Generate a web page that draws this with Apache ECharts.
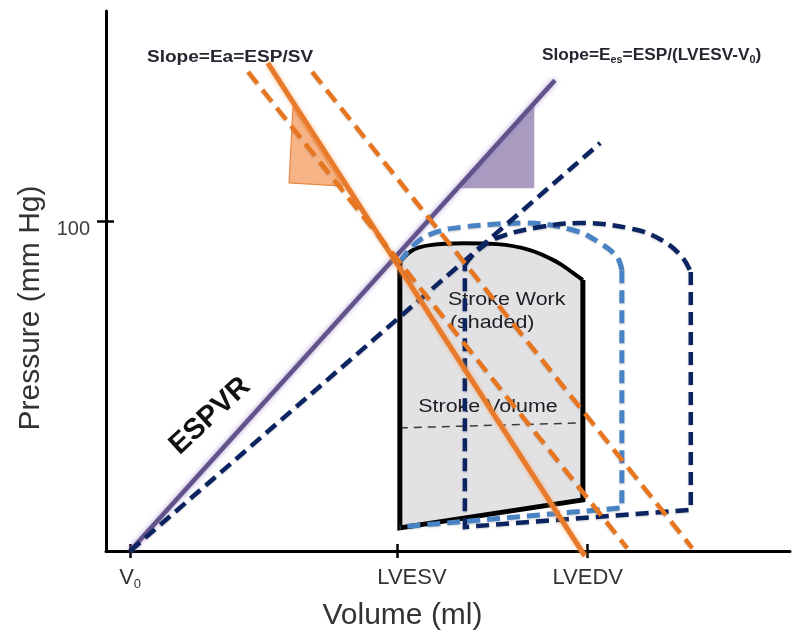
<!DOCTYPE html>
<html>
<head>
<meta charset="utf-8">
<title>Pressure-volume loop: ESPVR and arterial elastance</title>
<script src="https://cdn.jsdelivr.net/npm/echarts@6/dist/echarts.min.js"></script>
<style>
  html, body { margin: 0; padding: 0; background: #fff; }
  #chart { width: 802px; height: 637px; }
</style>
</head>
<body>
<div id="chart"></div>
<script>
// ---- axis ticks ----
const volumeTicks = [5, 60.5, 100];            // V0, LVESV, LVEDV (ml)
const volumeTickLabels = ['V0', 'LVESV', 'LVEDV'];
const pressureTicks = [100];                   // mm Hg

// ---- end-systolic pressure-volume relation ----
const espvr = [[5, 0], [93.2, 143.0]];
const espvrShifted = [[5, 0], [102.6, 123.9]];
const eesWedge = [[73.0, 110.2], [88.9, 110.2], [88.9, 136.0]];

// ---- arterial elastance (Ea) lines ----
const eaLine = [[33.6, 148.2], [99.4, -1.5]];
const eaDashedA = [[29.5, 145.5], [108.2, 0.9]];
const eaDashedB = [[42.8, 145.5], [121.7, 0.9]];
const eaWedge = [[38.8, 134.5], [38.0, 111.8], [49.2, 110.8]];

// ---- baseline loop (solid, shaded) ----
const loopTop = [[61, 87.8], [63.7, 91.4], [67.3, 92.9], [74.1, 93.5], [81.2, 93.2],
                 [88.0, 91.4], [93.6, 87.8], [97.0, 84.4], [99.0, 82.3]];
const loopSides = [[99.0, 82.3], [99.0, 15.5], [61, 7.0], [61, 87.8]];
const strokeVolumeLine = [[61, 37.4], [99.0, 38.9]];

// ---- larger loop (light blue dashed) ----
const loopBTop = [[61, 87.8], [64.6, 93.8], [68.7, 96.9], [74.1, 98.4], [81.2, 99.3],
                  [86.6, 99.6], [96.9, 97.5], [102.6, 93.5], [106.1, 89.3], [107.1, 85.3]];
const loopBSides = [[107.1, 85.3], [107.1, 13.1], [61, 7.3]];

// ---- shifted loop (navy dashed) ----
const loopCTop = [[74.5, 86.9], [77.2, 91.4], [81.8, 95.4], [90.1, 98.4], [98.4, 99.6],
                  [109.4, 97.8], [115.4, 94.4], [119.6, 89.3], [121.4, 84.7]];
const loopCSides = [[121.4, 84.7], [121.4, 12.5], [74.5, 7.3], [74.5, 86.9]];

// ---- annotations (anchored in data units) ----
const notes = [
  { text: '{a|Slope=Ea=ESP/SV}', x: 8.5, y: 150.0, align: 'left', sx: 1.19 },
  { text: '{a|Slope=E}{s|es}{a|=ESP/(LVESV-V}{s|0}{a|)}', x: 90.5, y: 150.6, align: 'left', sx: 1.08 },
  { text: '{n|Stroke Work}', x: 71.0, y: 76.2, align: 'left', sx: 1.19 },
  { text: '{n|(shaded)}', x: 71.4, y: 69.2, align: 'left', sx: 1.19 },
  { text: '{n|Stroke Volume}', x: 79.3, y: 43.7, align: 'center', sx: 1.19 },
  { text: '{e|ESPVR}', x: 21.6, y: 41.0, align: 'center', sx: 1, rotate: 43 }
];

const FONT = '"Liberation Sans", Arial, Helvetica, sans-serif';
const INK = '#262630';
const ORANGE = '#e8761e';
const NAVY = '#0c2461';
const LIGHT_BLUE = '#4a83c4';
const PURPLE = '#62528a';

const RICH = {
  a: { font: 'bold 16px ' + FONT, fill: INK, lineHeight: 20 },
  s: { font: 'bold 10px ' + FONT, fill: INK, lineHeight: 11, verticalAlign: 'bottom' },
  n: { font: '18px ' + FONT, fill: '#1e1e22', lineHeight: 22 },
  e: { font: 'bold 29px ' + FONT, fill: '#111', lineHeight: 32 }
};

function line(pts, color, width, type, z, extra) {
  return Object.assign({
    type: 'line', data: pts, symbol: 'none', silent: true, clip: false,
    z: z, animation: false,
    lineStyle: { color: color, width: width, type: type, cap: 'butt', join: 'miter' }
  }, extra || {});
}

function dashed(pts, color, width, dash, z, smooth) {
  return line(pts, color, width, dash, z, {
    smooth: smooth || false,
    lineStyle: {
      color: color, width: width, type: dash, cap: 'butt', join: 'miter',
      shadowColor: 'rgba(0,0,0,0.18)', shadowBlur: 2, shadowOffsetY: 1
    }
  });
}

function polygon(pts, fill, stroke, z) {
  return {
    type: 'custom', data: [pts[0]], encode: { x: 0, y: 1 }, z: z,
    silent: true, clip: false, animation: false,
    renderItem: function (params, api) {
      return {
        type: 'polygon',
        shape: { points: pts.map(function (p) { return api.coord(p); }) },
        style: { fill: fill, stroke: stroke || null, lineWidth: stroke ? 1.2 : 0 }
      };
    }
  };
}

const series = [
  // shaded stroke-work area
  polygon(loopTop.concat(loopSides.slice(1, 3)), '#e2e2e5', null, 1),
  line(strokeVolumeLine, '#3a3a3a', 1.5, [8, 6], 2),
  // slope wedges
  polygon(eesWedge, '#a99cc0', null, 2),
  polygon(eaWedge, '#f6b386', '#e58a46', 2),
  // annotation texts
  {
    type: 'custom', data: notes.map(function (n) { return [n.x, n.y]; }),
    encode: { x: 0, y: 1 }, z: 3, silent: true, clip: false, animation: false,
    renderItem: function (params, api) {
      const n = notes[params.dataIndex];
      const p = api.coord([n.x, n.y]);
      return {
        type: 'text', x: p[0], y: p[1],
        rotation: (n.rotate || 0) * Math.PI / 180,
        scaleX: n.sx,
        style: { text: n.text, rich: RICH, align: n.align, verticalAlign: 'middle' }
      };
    }
  },
  // baseline loop outline
  line(loopSides, '#000', 5, 'solid', 4),
  line(loopTop, '#000', 4, 'solid', 4, { smooth: 0.4 }),
  // ESPVR
  line(espvr, PURPLE, 4.5, 'solid', 5, {
    lineStyle: { color: PURPLE, width: 4.5, shadowColor: 'rgba(150,130,200,0.8)', shadowBlur: 5 }
  }),
  // light-blue loop
  dashed(loopBTop, LIGHT_BLUE, 5, [13, 7], 6, 0.4),
  dashed(loopBSides, LIGHT_BLUE, 5, [13, 7], 6),
  // navy loop and shifted ESPVR
  dashed(loopCTop, NAVY, 4.5, [13, 7], 7, 0.4),
  dashed(loopCSides, NAVY, 4.5, [13, 7], 7),
  dashed(espvrShifted, NAVY, 4.5, [13, 7], 7),
  // Ea lines
  line(eaLine, '#e87a2c', 5, 'solid', 8, {
    lineStyle: { color: '#e87a2c', width: 5, shadowColor: 'rgba(245,160,90,0.7)', shadowBlur: 4 }
  }),
  dashed(eaDashedA, ORANGE, 4.5, [15, 8], 9),
  dashed(eaDashedB, ORANGE, 4.5, [15, 8], 9)
];

const AXIS_INK = '#333';

const option = {
  animation: false,
  backgroundColor: '#fff',
  grid: { left: 106, right: 12, top: 11, bottom: 86, containLabel: false, outerBoundsMode: 'none' },
  xAxis: [
    {
      type: 'value', min: 0, max: 142, position: 'bottom',
      name: 'Volume (ml)', nameLocation: 'middle', nameGap: 50,
      nameTextStyle: { fontFamily: FONT, fontSize: 30, color: AXIS_INK, padding: [0, 91, 0, 0] },
      axisLine: { show: true, lineStyle: { color: '#000', width: 3 } },
      axisTick: { show: true, customValues: volumeTicks, length: 7, lineStyle: { color: '#000', width: 2.5 } },
      axisLabel: {
        show: true, customValues: volumeTicks, margin: 14,
        fontFamily: FONT, fontSize: 22, color: AXIS_INK,
        formatter: function (v) {
          const t = volumeTickLabels[volumeTicks.indexOf(v)];
          if (t === 'V0') return '{v|V}{s|0}';
          if (t === 'LVESV') return '{e|LVESV}';
          return '{v|' + t + '}';
        },
        rich: {
          v: { fontFamily: FONT, fontSize: 22, color: AXIS_INK, lineHeight: 26 },
          s: { fontFamily: FONT, fontSize: 13, color: AXIS_INK, lineHeight: 14, verticalAlign: 'bottom' },
          e: { fontFamily: FONT, fontSize: 22, color: AXIS_INK, lineHeight: 26, padding: [0, 0, 0, 29] }
        }
      },
      splitLine: { show: false }
    },
    {
      type: 'value', min: 0, max: 142, position: 'bottom', offset: 0,
      axisLine: { show: false },
      axisTick: { show: true, inside: true, customValues: volumeTicks, length: 7, lineStyle: { color: '#000', width: 2.5 } },
      axisLabel: { show: false },
      splitLine: { show: false }
    }
  ],
  yAxis: [
    {
      type: 'value', min: 0, max: 164, position: 'left',
      name: 'Pressure (mm Hg)', nameLocation: 'middle', nameGap: 56, nameRotate: 90,
      nameTextStyle: { fontFamily: FONT, fontSize: 30, color: AXIS_INK, padding: [0, 54, 0, 0] },
      axisLine: { show: true, lineStyle: { color: '#000', width: 3 } },
      axisTick: { show: true, customValues: pressureTicks, length: 9, lineStyle: { color: '#000', width: 2.5 } },
      axisLabel: {
        show: true, customValues: pressureTicks, margin: 16,
        fontFamily: FONT, fontSize: 20, color: '#3c3c44',
        formatter: function (v) { return '{p|' + v + '}'; },
        rich: { p: { fontFamily: FONT, fontSize: 20, color: '#3c3c44', padding: [16, 0, 0, 0] } }
      },
      splitLine: { show: false }
    },
    {
      type: 'value', min: 0, max: 164, position: 'left', offset: 0,
      axisLine: { show: false },
      axisTick: { show: true, inside: true, customValues: pressureTicks, length: 8, lineStyle: { color: '#000', width: 2.5 } },
      axisLabel: { show: false },
      splitLine: { show: false }
    }
  ],
  series: series
};

const chart = echarts.init(document.getElementById('chart'), null, { renderer: 'canvas' });
chart.setOption(option);
</script>
</body>
</html>
